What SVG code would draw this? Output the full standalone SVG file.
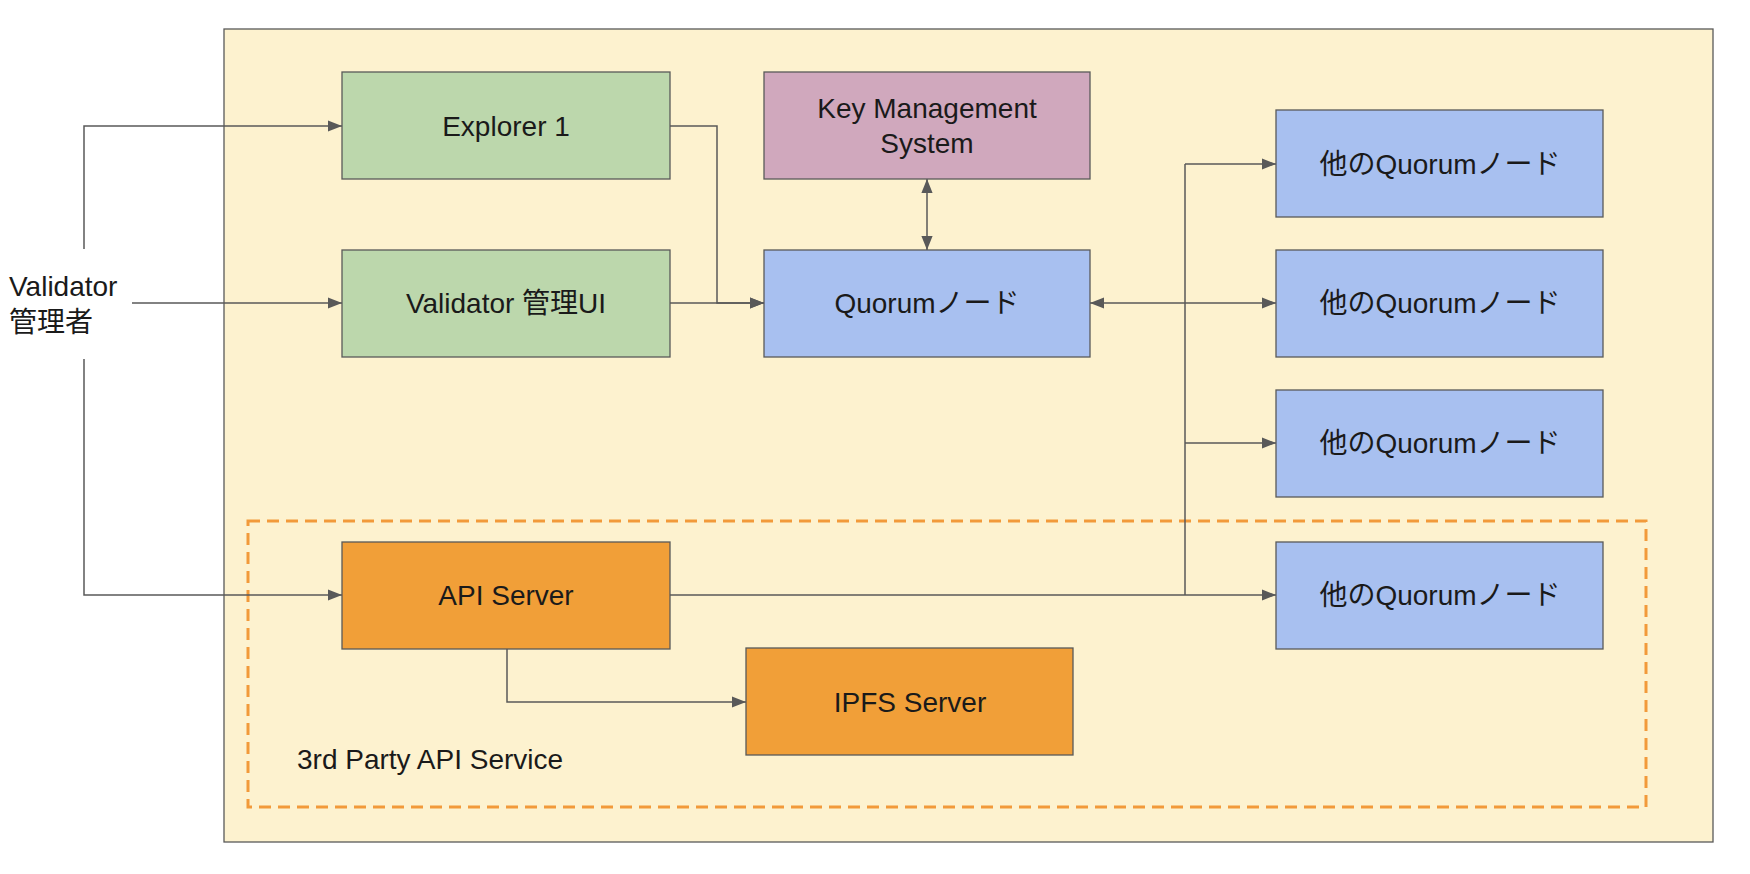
<svg xmlns="http://www.w3.org/2000/svg" width="1750" height="874" viewBox="0 0 1750 874">
<style>
.n{stroke:#595959;stroke-width:1.3}
.t{font-family:"Liberation Sans","Noto Sans CJK JP",sans-serif;font-size:28px;fill:#1a1a1a;text-anchor:middle;dominant-baseline:central}
.c{fill:none;stroke:#595959;stroke-width:1.5}
</style>
<defs><marker id="a" viewBox="0 0 10 10" refX="10" refY="5" markerWidth="14" markerHeight="14" markerUnits="userSpaceOnUse" orient="auto-start-reverse"><path d="M0,1 L10,5 L0,9 Z" fill="#595959"/></marker></defs>
<rect width="1750" height="874" fill="#fff"/>
<rect x="224" y="29" width="1489" height="813" fill="#fdf2cf" stroke="#595959" stroke-width="1.3"/>
<rect x="248" y="521" width="1398" height="286" fill="none" stroke="#f29a3a" stroke-width="3" stroke-dasharray="12,7"/>
<text class="t" x="9" y="286" style="text-anchor:start">Validator</text>
<text class="t" x="9" y="322" style="text-anchor:start">管理者</text>
<text class="t" x="297" y="759" style="text-anchor:start">3rd Party API Service</text>
<g id="connectors">
<path class="c" d="M84,249V126H342" marker-end="url(#a)"/>
<path class="c" d="M132,303H342" marker-end="url(#a)"/>
<path class="c" d="M84,359V595H342" marker-end="url(#a)"/>
<path class="c" d="M670,126H717V303H764" marker-end="url(#a)"/>
<path class="c" d="M670,303H764" marker-end="url(#a)"/>
<path class="c" d="M927,179V250" marker-start="url(#a)" marker-end="url(#a)"/>
<path class="c" d="M1185,303H1090" marker-end="url(#a)"/>
<path class="c" d="M1185,164V595"/>
<path class="c" d="M1185,164H1276" marker-end="url(#a)"/>
<path class="c" d="M1185,303H1276" marker-end="url(#a)"/>
<path class="c" d="M1185,443H1276" marker-end="url(#a)"/>
<path class="c" d="M670,595H1276" marker-end="url(#a)"/>
<path class="c" d="M507,649V702H746" marker-end="url(#a)"/>
</g>
<g id="explorer"><rect class="n" x="342" y="72" width="328" height="107" fill="#bcd7ac"/><text class="t" x="506" y="126">Explorer 1</text></g>
<g id="validator-ui"><rect class="n" x="342" y="250" width="328" height="107" fill="#bcd7ac"/><text class="t" x="506" y="303">Validator 管理UI</text></g>
<g id="kms"><rect class="n" x="764" y="72" width="326" height="107" fill="#d0a8bd"/><text class="t" x="927" y="108">Key Management</text><text class="t" x="927" y="143">System</text></g>
<g id="quorum"><rect class="n" x="764" y="250" width="326" height="107" fill="#a8c0f0"/><text class="t" x="927" y="303">Quorumノード</text></g>
<g id="q1"><rect class="n" x="1276" y="110" width="327" height="107" fill="#a8c0f0"/><text class="t" x="1440" y="164">他のQuorumノード</text></g>
<g id="q2"><rect class="n" x="1276" y="250" width="327" height="107" fill="#a8c0f0"/><text class="t" x="1440" y="303">他のQuorumノード</text></g>
<g id="q3"><rect class="n" x="1276" y="390" width="327" height="107" fill="#a8c0f0"/><text class="t" x="1440" y="443">他のQuorumノード</text></g>
<g id="q4"><rect class="n" x="1276" y="542" width="327" height="107" fill="#a8c0f0"/><text class="t" x="1440" y="595">他のQuorumノード</text></g>
<g id="api"><rect class="n" x="342" y="542" width="328" height="107" fill="#f19f38"/><text class="t" x="506" y="595">API Server</text></g>
<g id="ipfs"><rect class="n" x="746" y="648" width="327" height="107" fill="#f19f38"/><text class="t" x="910" y="702">IPFS Server</text></g>
</svg>
